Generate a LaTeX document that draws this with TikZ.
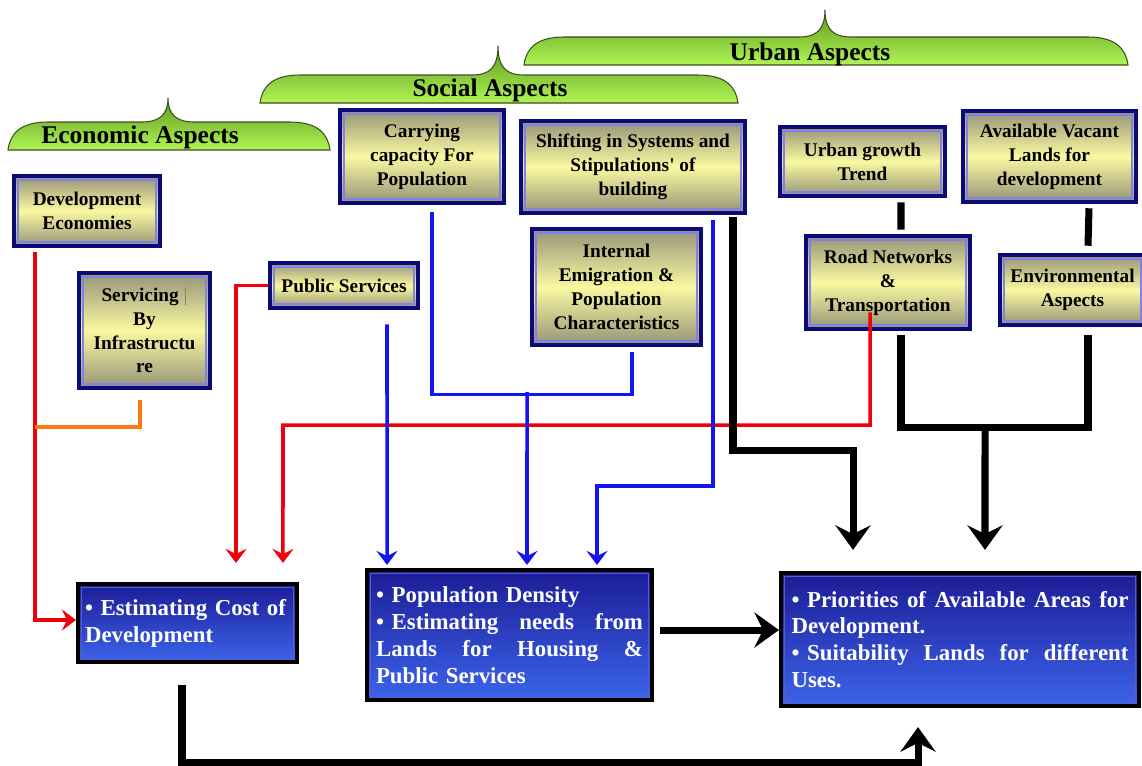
\documentclass[tikz,border=0pt]{standalone}
\usepackage{fontspec}
\setmainfont{Liberation Serif}
\usetikzlibrary{arrows.meta,positioning}

\definecolor{boxnavy}{RGB}{10,10,120}
\definecolor{boxrim}{RGB}{130,130,230}
\definecolor{boxgray}{RGB}{150,148,120}
\definecolor{boxyellow}{RGB}{250,248,160}
\definecolor{deepblue}{RGB}{28,28,150}
\definecolor{brightblue}{RGB}{60,100,235}
\definecolor{outrim}{RGB}{90,90,200}
\definecolor{bracedark}{RGB}{95,150,30}
\definecolor{bracelight}{RGB}{175,245,85}
\definecolor{braceline}{RGB}{60,80,30}
\definecolor{linkred}{RGB}{240,0,10}
\definecolor{linkblue}{RGB}{20,20,240}
\definecolor{linkorange}{RGB}{255,120,20}

% a line spread to the given width (words split by \hfill)
\newcommand{\fullline}[2]{\leavevmode\hbox to #1{#2}}
% green curly bracket: left x, right x, peak x, base y, shoulder y, peak y
\newcommand{\aspectbrace}[6]{%
  \draw[braceline, line width=0.6pt, top color=bracedark, bottom color=bracelight]
    (#1,#4) .. controls ({#1+2},{#4-16}) and ({#1+12},#5) .. ({#1+40},#5)
    -- ({#3-26},#5) .. controls ({#3-9},#5) and (#3,{#5-7}) .. (#3,#6)
    .. controls (#3,{#5-7}) and ({#3+9},#5) .. ({#3+26},#5)
    -- ({#2-40},#5) .. controls ({#2-12},#5) and ({#2-2},{#4-16}) .. (#2,#4) -- cycle;}

\begin{document}
\begin{tikzpicture}[x=0.02cm, y=-0.02cm,
  aspect/.style={draw=boxnavy, line width=2.6pt, top color=boxgray, bottom color=boxgray,
    middle color=boxyellow, align=center, inner sep=2pt,
    font=\bfseries\fontsize{11}{13.6}\selectfont,
    path picture={\draw[boxrim, line width=0.9pt]
      ([shift={(2.2pt,2.2pt)}]path picture bounding box.south west) rectangle
      ([shift={(-2.2pt,-2.2pt)}]path picture bounding box.north east);}},
  outcome/.style={draw=black, line width=2.4pt, top color=deepblue, bottom color=brightblue,
    text=white, align=left, inner ysep=3pt,
    font=\bfseries\fontsize{13}{15.3}\selectfont,
    path picture={\draw[outrim, line width=0.7pt]
      ([shift={(2pt,2pt)}]path picture bounding box.south west) rectangle
      ([shift={(-2pt,-2pt)}]path picture bounding box.north east);}},
  aspecttitle/.style={font=\bfseries\fontsize{14.5}{17}\selectfont},
  redlink/.style={linkred, line width=2pt},
  redarrow/.style={redlink, -{Stealth[length=8pt,width=12pt,inset=3pt]}},
  orangelink/.style={linkorange, line width=2pt},
  bluelink/.style={linkblue, line width=2pt},
  bluearrow/.style={bluelink, -{Stealth[length=8pt,width=12pt,inset=3pt]}},
  blacklink/.style={black, line width=4pt},
  blackarrow/.style={blacklink, -{Stealth[length=14pt,width=20pt,inset=5pt]}}]

\fill[white] (0,0) rectangle (1142,765);
\useasboundingbox (0,0) rectangle (1142,765);

% brackets
\aspectbrace{8}{330}{168}{150}{122}{98}
\aspectbrace{260}{738}{498}{103}{75}{46}
\aspectbrace{524}{1128}{825}{65}{37}{10}
\node[aspecttitle] (ecotitle) at (140,137) {Economic Aspects};
\node[aspecttitle] (soctitle) at (490,90) {Social Aspects};
\node[aspecttitle] (urbtitle) at (810,54) {Urban Aspects};

% economic aspects
\node[aspect, minimum width=2.92cm, minimum height=1.40cm] (deveco) at (87,211) {Development\\Economies};
\node[aspect, minimum width=2.62cm, minimum height=2.30cm] (servicing) at (144.5,330.5) {Servicing {\mdseries\color{gray}|}\\By\\Infrastructu\\re};
\node[aspect, minimum width=2.96cm, minimum height=0.90cm] (pubserv) at (344,285.5) {Public Services};
% social aspects
\node[aspect, minimum width=3.28cm, minimum height=1.86cm] (carrying) at (422,156.5) {Carrying\\capacity For\\Population};
\node[aspect, minimum width=4.48cm, minimum height=1.84cm] (shifting) at (633,167) {Shifting in Systems and\\Stipulations\textquotesingle\ of\\building};
\node[aspect, minimum width=3.38cm, minimum height=2.32cm] (emigration) at (616.5,287) {Internal\\Emigration \&\\Population\\Characteristics};
% urban aspects
\node[aspect, minimum width=3.30cm, minimum height=1.38cm] (urbgrowth) at (862.5,161.5) {Urban growth\\Trend};
\node[aspect, minimum width=3.46cm, minimum height=1.82cm] (vacant) at (1049.5,156.5) {Available Vacant\\Lands for\\development};
\node[aspect, minimum width=3.28cm, minimum height=1.86cm] (roadnet) at (888,282.5) {Road Networks\\\&\\Transportation};
\node[aspect, minimum width=2.90cm, minimum height=1.40cm] (environ) at (1072.5,290) {Environmental\\Aspects};

% outcomes
\node[outcome, text width=4.1cm, minimum height=1.56cm, inner xsep=0.14cm] (costdev) at (187.5,623)
  {\textbullet\ Estimating Cost of\\Development};
\node[outcome, text width=5.34cm, minimum height=2.60cm, inner xsep=0.18cm] (popdens) at (509.5,635)
  {\textbullet\ Population Density\\
   \fullline{5.34cm}{\textbullet\ Estimating\hfill needs\hfill from}\\
   \fullline{5.34cm}{Lands\hfill for\hfill Housing\hfill \&}\\
   Public Services};
\node[outcome, text width=6.74cm, minimum height=2.66cm, inner xsep=0.21cm] (priority) at (960,639.5)
  {\fullline{6.74cm}{\textbullet\ Priorities\hfill of\hfill Available\hfill Areas\hfill for}\\
   Development.\\
   \fullline{6.74cm}{\textbullet\ Suitability\hfill Lands\hfill for\hfill different}\\
   Uses.};

% cost links
\coordinate (infrajoin) at (35,427);
\coordinate (roadbend) at (283,425);
\draw[redarrow] ([xshift=-1.04cm,yshift=-0.08cm]deveco.south) |- ([yshift=0.06cm]costdev.west);
\draw[orangelink] ([xshift=-0.09cm,yshift=-0.2cm]servicing.south) |- (infrajoin);
\draw[redarrow] (pubserv.west) -| ([xshift=0.97cm,yshift=0.38cm]costdev.north);
\draw[redarrow] ([xshift=-0.36cm,yshift=0.38cm]roadnet.south) |- (roadbend)
  -- ([xshift=1.91cm,yshift=0.38cm]costdev.north);

% population links
\coordinate (popjoin) at (527,392);
\draw[bluearrow] ([xshift=0.86cm,yshift=-0.28cm]pubserv.south) -- ([xshift=-2.45cm,yshift=0.06cm]popdens.north);
\draw[bluelink] ([xshift=0.2cm,yshift=-0.14cm]carrying.south) |- ([xshift=0.31cm,yshift=-0.94cm]emigration.south)
  -- ([xshift=0.31cm,yshift=-0.1cm]emigration.south);
\draw[bluearrow] (popjoin) -- ([xshift=0.35cm,yshift=0.06cm]popdens.north);
\draw[bluearrow] ([xshift=1.6cm,yshift=-0.1cm]shifting.south) |- ([xshift=1.75cm,yshift=1.64cm]popdens.north)
  -- ([xshift=1.75cm,yshift=0.06cm]popdens.north);

% priority links
\coordinate (urbjoin) at (985,425);
\coordinate (pdout) at ([xshift=0.12cm,yshift=0.1cm]popdens.east);
\draw[blackarrow] ([xshift=2cm,yshift=-0.04cm]shifting.south) |- ([xshift=-2.14cm,yshift=2.4cm]priority.north)
  -- ([xshift=-2.14cm,yshift=0.42cm]priority.north);
\draw[blacklink] ([xshift=0.77cm,yshift=-0.08cm]urbgrowth.south) -- ([xshift=0.26cm,yshift=0.08cm]roadnet.north);
\draw[blacklink] ([xshift=0.79cm,yshift=-0.08cm]vacant.south) -- ([xshift=0.31cm,yshift=0.14cm]environ.north);
\draw[blacklink] ([xshift=0.26cm,yshift=-0.08cm]roadnet.south) |- ([xshift=0.31cm,yshift=-2cm]environ.south)
  -- ([xshift=0.31cm,yshift=-0.16cm]environ.south);
\draw[blackarrow] (urbjoin) -- ([xshift=0.5cm,yshift=0.42cm]priority.north);
\draw[blackarrow] (pdout) -- (pdout -| priority.west);
\draw[blackarrow] ([xshift=-0.11cm,yshift=-0.42cm]costdev.south) |- ([xshift=-0.84cm,yshift=-1.08cm]priority.south)
  -- ([xshift=-0.84cm,yshift=-0.38cm]priority.south);
\end{tikzpicture}
\end{document}
